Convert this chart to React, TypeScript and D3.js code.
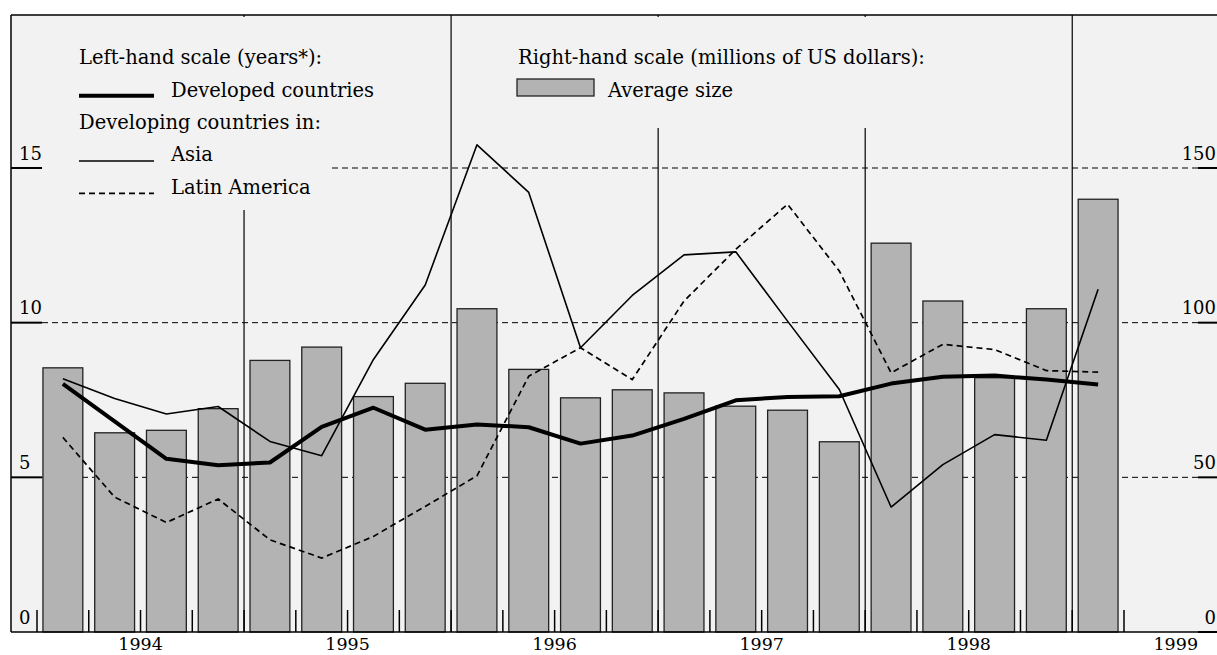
import React from "react";
import * as d3 from "d3";

// quarterly data, 1994 Q1 .. 1999 Q1
const quarters = [
  "1994Q1", "1994Q2", "1994Q3", "1994Q4",
  "1995Q1", "1995Q2", "1995Q3", "1995Q4",
  "1996Q1", "1996Q2", "1996Q3", "1996Q4",
  "1997Q1", "1997Q2", "1997Q3", "1997Q4",
  "1998Q1", "1998Q2", "1998Q3", "1998Q4",
  "1999Q1",
];

// right-hand scale, millions of US dollars
const averageSize = [
  85.4, 64.4, 65.2, 72.2, 87.8, 92.1, 76.1, 80.4, 104.5, 84.9, 75.7,
  78.3, 77.3, 73.0, 71.7, 61.5, 125.7, 107.0, 82.2, 104.5, 139.9,
];

// left-hand scale, years
const developed = [
  8.02, 6.81, 5.6, 5.39, 5.48, 6.63, 7.25, 6.54, 6.71, 6.62, 6.09,
  6.35, 6.89, 7.49, 7.6, 7.62, 8.03, 8.25, 8.29, 8.16, 8.0,
];
const asia = [
  8.19, 7.55, 7.05, 7.29, 6.16, 5.7, 8.81, 11.22, 15.75, 14.21, 9.19,
  10.88, 12.19, 12.29, 10.05, 7.84, 4.04, 5.41, 6.38, 6.2, 11.08,
];
const latinAmerica = [
  6.29, 4.36, 3.54, 4.3, 2.98, 2.39, 3.09, 4.06, 5.05, 8.27, 9.19,
  8.16, 10.7, 12.37, 13.83, 11.67, 8.38, 9.3, 9.13, 8.45, 8.4,
];

const leftTicks = [0, 5, 10, 15];
const rightTicks = [0, 50, 100, 150];
const yearLabels = [1994, 1995, 1996, 1997, 1998, 1999];

const W = 1217;
const H = 655;
const bg = "#f2f2f2";
const barFill = "#b3b3b3";
const font = "'DejaVu Serif', serif";

const toYear = (q: string) => +q.slice(0, 4) + (+q.slice(5) - 1) / 4;

export default function App() {
  const x = d3.scaleLinear().domain([1994, 1999.25]).range([37, 1124]);
  const yL = d3.scaleLinear().domain([0, 15]).range([632, 168]);
  const yR = d3.scaleLinear().domain([0, 150]).range([632, 168]);

  const qw = x(1994.25) - x(1994);
  const barW = qw * 0.77;
  const cx = (q: string) => x(toYear(q) + 0.125);

  const boundaries = d3.range(0, quarters.length + 1).map((i) => 1994 + i / 4);
  const yearLines = [1995, 1996, 1997, 1998, 1999];

  const line = (vals: number[]) =>
    d3
      .line<number>()
      .x((_, i) => cx(quarters[i]))
      .y((d) => yL(d))(vals) || "";

  return (
    <svg
      width={W}
      height={H}
      style={{ position: "absolute", left: 0, top: 0, display: "block" }}
      fontFamily={font}
    >
      <rect x={0} y={0} width={W} height={H} fill="#fff" />
      <rect x={11} y={15} width={W - 11} height={632 - 15} fill={bg} />

      {/* gridlines */}
      {leftTicks.slice(1).map((t) => (
        <line
          key={"g" + t}
          x1={42}
          x2={1198}
          y1={yL(t)}
          y2={yL(t)}
          stroke="#000"
          strokeWidth={1}
          strokeDasharray="6,4"
        />
      ))}

      {/* year separators */}
      {yearLines.map((yr) => (
        <line
          key={"v" + yr}
          x1={x(yr)}
          x2={x(yr)}
          y1={15}
          y2={632}
          stroke="#000"
          strokeWidth={1.2}
        />
      ))}

      {/* legend backgrounds */}
      <rect x={42} y={17} width={288} height={193} fill={bg} />
      <rect x={500} y={17} width={500} height={111} fill={bg} />

      {/* bars */}
      {averageSize.map((v, i) => (
        <rect
          key={"b" + i}
          x={cx(quarters[i]) - barW / 2}
          y={yR(v)}
          width={barW}
          height={yR(0) - yR(v)}
          fill={barFill}
          stroke="#222"
          strokeWidth={1.3}
        />
      ))}

      {/* lines */}
      <path d={line(latinAmerica)} fill="none" stroke="#000" strokeWidth={1.7} strokeDasharray="6,4" />
      <path d={line(asia)} fill="none" stroke="#000" strokeWidth={1.6} strokeLinejoin="round" />
      <path d={line(developed)} fill="none" stroke="#000" strokeWidth={4} strokeLinejoin="round" />

      {/* quarter ticks */}
      {boundaries.map((b, i) => (
        <line key={"t" + i} x1={x(b)} x2={x(b)} y1={610} y2={632} stroke="#000" strokeWidth={1.5} />
      ))}

      {/* frame */}
      <line x1={11} x2={11} y1={15} y2={632} stroke="#000" strokeWidth={1.5} />
      <line x1={11} x2={W} y1={15} y2={15} stroke="#000" strokeWidth={1.5} />
      <line x1={11} x2={W} y1={632} y2={632} stroke="#000" strokeWidth={1.5} />

      {/* left axis */}
      {leftTicks.map((t) => (
        <g key={"l" + t}>
          {t > 0 && <line x1={11} x2={42} y1={yL(t)} y2={yL(t)} stroke="#000" strokeWidth={2} />}
          <text x={19} y={yL(t) - 8.5} fontSize={18} fill="#000">
            {t}
          </text>
        </g>
      ))}

      {/* right axis */}
      {rightTicks.map((t) => (
        <g key={"r" + t}>
          <line x1={1198} x2={W} y1={yR(t)} y2={yR(t)} stroke="#000" strokeWidth={2} />
          <text x={1216} y={yR(t) - 8.5} fontSize={18} textAnchor="end" fill="#000">
            {t}
          </text>
        </g>
      ))}

      {/* year labels */}
      {yearLabels.map((yr) => (
        <text key={"y" + yr} x={x(yr + 0.5)} y={650} fontSize={17.5} textAnchor="middle" fill="#000">
          {yr}
        </text>
      ))}

      {/* left legend */}
      <g fontSize={19.5} fill="#000">
        <text x={79} y={64}>Left-hand scale (years*):</text>
        <line x1={79} x2={154} y1={95.7} y2={95.7} stroke="#000" strokeWidth={4} />
        <text x={171} y={96.5}>Developed countries</text>
        <text x={79} y={129}>Developing countries in:</text>
        <line x1={79} x2={154} y1={161} y2={161} stroke="#000" strokeWidth={1.6} />
        <text x={171} y={161}>Asia</text>
        <line x1={79} x2={154} y1={193.3} y2={193.3} stroke="#000" strokeWidth={1.7} strokeDasharray="6,4" />
        <text x={171} y={194}>Latin America</text>
      </g>

      {/* right legend */}
      <g fontSize={19.5} fill="#000">
        <text x={518} y={64}>Right-hand scale (millions of US dollars):</text>
        <rect x={517} y={79} width={77} height={17} fill={barFill} stroke="#222" strokeWidth={1.3} />
        <text x={608} y={96.5}>Average size</text>
      </g>
    </svg>
  );
}
